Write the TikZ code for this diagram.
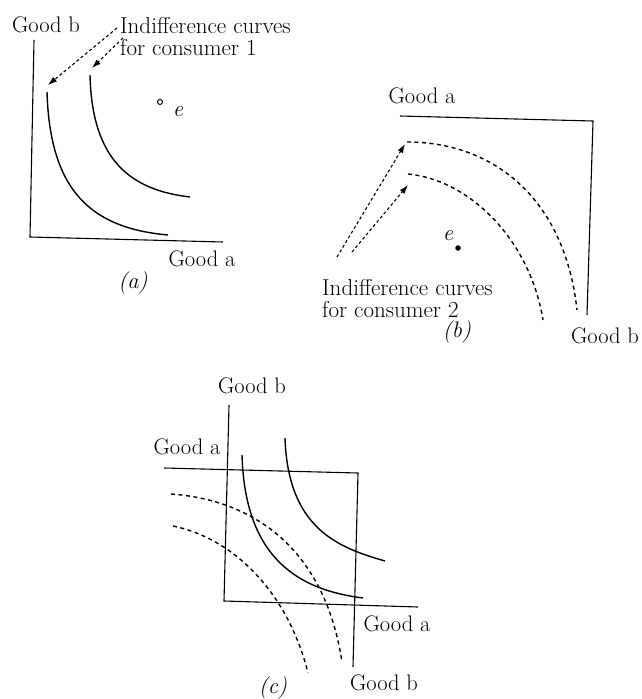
\documentclass[tikz,border=0pt]{standalone}
\usetikzlibrary{arrows.meta}
\begin{document}
\begin{tikzpicture}[x=1pt,y=-1pt,
  lbl/.style={font=\fontsize{22.5}{24}\selectfont, inner sep=0pt},
  axis/.style={line width=1.1pt},
  icurve/.style={line width=1.4pt},
  dcurve/.style={line width=1.4pt, dash pattern=on 4pt off 3.5pt},
  pointer/.style={line width=1.1pt, dash pattern=on 3pt off 2.5pt, -{Latex[length=9pt,width=6pt]}},
  txt/.style={font=\fontsize{23}{22.5}\selectfont, inner sep=0pt, align=left, anchor=north west}]
\useasboundingbox (0,0) rectangle (641,699);

% ---------- panel (a) ----------
\coordinate (a0) at (30,237);
\draw[axis] (34,40) -- (a0) -- (223,242);
\node[lbl, anchor=base] (agb) at (46,32) {Good b};
\node[lbl, anchor=base] (aga) at (202,266) {Good a};
\node[lbl] (acap) at (133,283) {\textit{(a)}};
\draw[icurve] (47,92) .. controls (50,190) and (90,228) .. (168,235);
\draw[icurve] (90,75) .. controls (92,160) and (130,190) .. (190,197);
\node[txt] (atxt) at (120,17) {Indifference curves\\for consumer 1};
\coordinate (as1) at (117,28);
\coordinate (as2) at (123,38);
\coordinate (at1) at (48,85);
\coordinate (at2) at (92,68);
\draw[pointer] (as1) -- (at1);
\draw[pointer] (as2) -- (at2);
\node[draw, circle, line width=1pt, inner sep=0pt, minimum size=5pt] (ae) at (160,102) {};
\node[lbl] (ael) at (178,112) {\textit{e}};

% ---------- panel (b) ----------
\coordinate (b0) at (593,121);
\draw[axis] (400,116) -- (b0) -- (587,315);
\node[lbl, anchor=base] (bga) at (422,103) {Good a};
\node[lbl, anchor=base] (bgb) at (605,343) {Good b};
\node[lbl] (bcap) at (457,332) {\textit{(b)}};
\draw[dcurve] (407,142) .. controls (495,142) and (565,200) .. (577,310);
\draw[dcurve] (408,174) .. controls (470,180) and (530,240) .. (543,320);
\node[txt] (btxt) at (322,279) {Indifference curves\\for consumer 2};
\coordinate (bs1) at (337,257);
\coordinate (bs2) at (352,252);
\coordinate (bt1) at (405,144);
\coordinate (bt2) at (408,185);
\draw[pointer] (bs1) -- (bt1);
\draw[pointer] (bs2) -- (bt2);
\node[fill, circle, inner sep=0pt, minimum size=5.5pt] (be) at (458,248) {};
\node[lbl] (bel) at (448,236) {\textit{e}};

% ---------- panel (c) ----------
\coordinate (c1) at (224,601);
\coordinate (c2) at (358,473);
\draw[axis] (229,405) -- (c1) -- (418,607);
\draw[axis] (164,468) -- (c2) -- (353,667);
\node[lbl, anchor=base] (cgbt) at (252,393) {Good b};
\node[lbl, anchor=base] (cgal) at (187,454) {Good a};
\node[lbl, anchor=base] (cgar) at (397,631) {Good a};
\node[lbl, anchor=base] (cgbb) at (384,690) {Good b};
\node[lbl] (ccap) at (273,688) {\textit{(c)}};
\draw[icurve] (242,455) .. controls (245,560) and (300,590) .. (363,598);
\draw[icurve] (285,438) .. controls (288,530) and (340,548) .. (385,561);
\draw[dcurve] (171,494) .. controls (255,500) and (325,550) .. (342,662);
\draw[dcurve] (173,526) .. controls (240,540) and (290,600) .. (308,673);
\end{tikzpicture}
\end{document}
